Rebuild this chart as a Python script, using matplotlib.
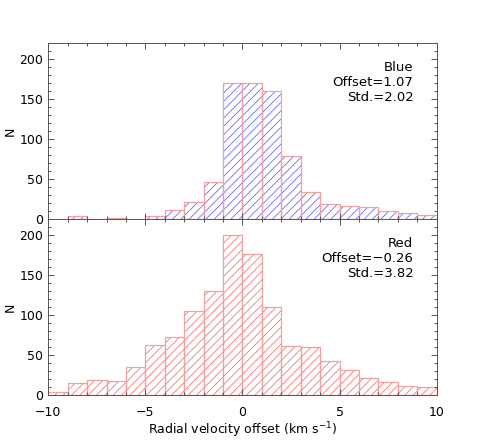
import numpy as np
import matplotlib
matplotlib.use('Agg')
import matplotlib.pyplot as plt
from matplotlib.ticker import MultipleLocator

# bin edges (km/s) and counts
blue_edges = np.arange(-9, 11, 1)
blue_counts = [4, 1, 2, 1, 4, 12, 22, 47, 170, 170, 161, 79, 34, 19, 17, 15, 11, 8, 6]
red_edges = np.arange(-10, 11, 1)
red_counts = [4, 15, 19, 17, 35, 63, 73, 105, 130, 201, 177, 110, 61, 60, 43, 31, 21, 16, 11, 10]

blue_text = "Blue\nOffset=1.07\nStd.=2.02"
red_text = "Red\nOffset=\u22120.26\nStd.=3.82"

plt.rcParams['font.family'] = ['DejaVu Sans']
plt.rcParams['hatch.linewidth'] = 0.5

fig = plt.figure(figsize=(4.85, 4.40), dpi=100)
ax1 = fig.add_axes([0.0996, 0.5014, 0.8008, 0.4002])
ax2 = fig.add_axes([0.0996, 0.1023, 0.8008, 0.3991])

edge_col = '#f2a0a0'
spine_col = '#555555'


def draw_hist(ax, edges, counts, hatch_col, label):
    left = edges[:-1]
    ax.bar(left, counts, width=1.0, align='edge', facecolor='none',
           edgecolor=hatch_col, hatch='////', linewidth=0)
    ax.bar(left, counts, width=1.0, align='edge', fill=False,
           edgecolor=edge_col, linewidth=0.9)
    ax.set_xlim(-10, 10)
    ax.set_ylim(0, 220)
    ax.xaxis.set_major_locator(MultipleLocator(5))
    ax.xaxis.set_minor_locator(MultipleLocator(1))
    ax.yaxis.set_major_locator(MultipleLocator(50))
    ax.yaxis.set_minor_locator(MultipleLocator(10))
    ax.tick_params(which='both', direction='in', top=True, right=True,
                   colors=spine_col, labelcolor='black', labelsize=9)
    ax.tick_params(which='major', length=4.3, width=0.7)
    ax.tick_params(which='minor', length=2.4, width=0.7)
    ax.tick_params(axis='x', pad=8)
    for s in ax.spines.values():
        s.set_color(spine_col)
        s.set_linewidth(0.7)
    ax.set_ylabel('N', fontsize=9)
    ax.yaxis.set_label_coords(-0.08, 0.5)
    ax.text(0.94, 0.9, label, transform=ax.transAxes, ha='right', va='top',
            fontsize=9.5, linespacing=1.2)


draw_hist(ax1, blue_edges, blue_counts, '#5050ff', blue_text)
draw_hist(ax2, red_edges, red_counts, '#f56060', red_text)

ax1.tick_params(labelbottom=False)
ax2.set_xlabel('Radial velocity offset (km s$^{-1}$)', fontsize=9, labelpad=1)

fig.savefig('out.png', dpi=100)
